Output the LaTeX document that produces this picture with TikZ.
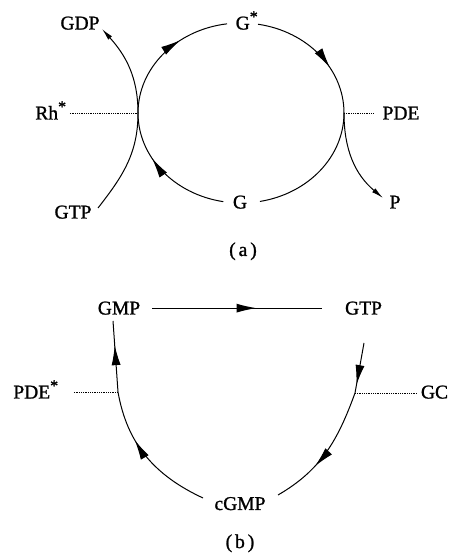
\documentclass[tikz,border=0pt]{standalone}
\usepackage{fontspec}
\setmainfont{Liberation Serif}[UprightFeatures={FakeBold=1.2}]
\usetikzlibrary{arrows.meta,decorations.markings,calc}
\tikzset{
  lbl/.style={inner sep=3pt,anchor=base,font=\fontsize{19.5}{22}\selectfont},
  ln/.style={line width=1pt},
  bigarr/.style={postaction={decorate},decoration={markings,mark=at position #1 with {\arrow{Latex[length=20pt,width=9pt]}}}},
  endarr/.style={-{Latex[length=12pt,width=5pt]}},
  dotln/.style={line width=0.8pt,densely dotted}
}
\newcommand{\str}{\textsuperscript{\fontsize{16}{16}\selectfont *}}
\begin{document}
\begin{tikzpicture}[x=1pt,y=1pt]
\useasboundingbox (0,0) rectangle (452,556);
% ---------- (a) ----------
\coordinate (C) at (241,443);
\coordinate (L) at (138,443);
\coordinate (R) at (344,443);
\node[lbl] (Gs) at (247,526.5) {G\str};
\node[lbl] (G) at (240,347.5) {G};
\node[lbl] (GDP) at (80,526.5) {GDP};
\node[lbl] (Rh) at (51,436.5) {Rh\str};
\node[lbl] (PDEa) at (401,436.5) {PDE};
\node[lbl] (GTPa) at (73,337.5) {GTP};
\node[lbl] (P) at (395,347.5) {P};
\node[lbl] (capa) at (243,300) {(\hspace{3pt}a\hspace{3pt})};
\coordinate (gtpE) at (98,348);
\coordinate (gdpE) at (102,527);
\coordinate (pE) at (383,358);
% ellipse arcs
\draw[ln,bigarr=0.64] (L) arc[start angle=180,end angle=97.8,x radius=103pt,y radius=90pt];
\draw[ln,bigarr=0.64] ([shift={(C)}]80.5:103pt and 90pt) arc[start angle=80.5,end angle=0,x radius=103pt,y radius=90pt];
\draw[ln] (R) arc[start angle=0,end angle=-79.4,x radius=103pt,y radius=90pt];
\draw[ln,bigarr=0.64] ([shift={(C)}]260.1:103pt and 90pt) arc[start angle=260.1,end angle=180,x radius=103pt,y radius=90pt];
% outer arcs
\draw[ln] (gtpE) to[out=52,in=-90] (L);
\draw[ln,endarr] (L) to[out=90,in=-48] (gdpE);
\draw[ln,endarr] (R) to[out=-90,in=140] (pE);
% dotted
\draw[dotln] (L -| Rh.east) -- (L);
\draw[dotln,shorten >=5pt] (R) -- (R -| PDEa.west);
% ---------- (b) ----------
\node[lbl] (GMP) at (119,241.5) {GMP};
\node[lbl] (GTPb) at (363.5,241.5) {GTP};
\node[lbl] (PDEs) at (36,157.5) {PDE\str};
\node[lbl] (GC) at (434.5,157.5) {GC};
\node[lbl] (cGMP) at (240,46) {cGMP};
\node[lbl] (capb) at (240,8) {(\hspace{3pt}b\hspace{3pt})};
\coordinate (PL) at (118,164);
\coordinate (PR) at (355,163);
\coordinate (gmpB) at (113,235);
\coordinate (gtpB) at (364,213);
\coordinate (cL) at (203,58);
\coordinate (cR) at (278,61);
\draw[ln,bigarr=0.57,shorten <=9pt,shorten >=20pt] (GMP.east) -- (GTPb.west);
\draw[ln,bigarr=0.66] (PL) -- (gmpB);
\draw[ln,bigarr=0.84] (gtpB) -- (PR);
\draw[ln,bigarr=0.64] (cL) to[out=155,in=-80] (PL);
\draw[ln,bigarr=0.64] (PR) to[out=250,in=30] (cR);
\draw[dotln,shorten <=12pt] (PL -| PDEs.east) -- (PL);
\draw[dotln] (PR) -- (PR -| GC.west);
\end{tikzpicture}
\end{document}
